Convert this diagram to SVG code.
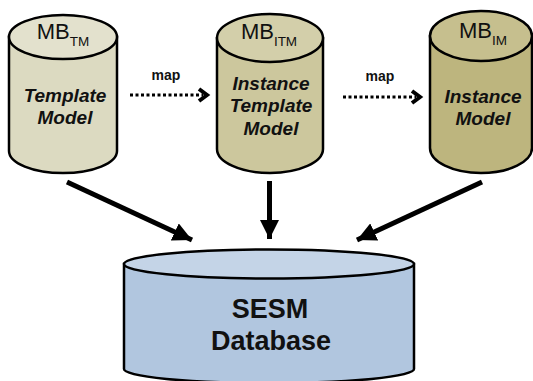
<svg xmlns="http://www.w3.org/2000/svg" width="533" height="381" viewBox="0 0 533 381">
  <defs>
    <marker id="head" markerUnits="userSpaceOnUse" markerWidth="21" markerHeight="19" refX="19" refY="9.5" orient="auto">
      <path d="M0,0 L19,9.5 L0,19 Z" fill="#000"/>
    </marker>
    <style>
      .cyl { stroke: #000; stroke-width: 2.5; }
      .mb { font-family: "Liberation Sans", Arial, sans-serif; font-size: 22px; fill: #111; text-anchor: middle; }
      .sub { font-size: 13.5px; }
      .label { font-family: "Liberation Sans", Arial, sans-serif; font-size: 19px; font-weight: bold; font-style: italic; fill: #111; text-anchor: middle; }
      .map { font-family: "Liberation Sans", Arial, sans-serif; font-size: 14px; font-weight: bold; fill: #111; text-anchor: middle; }
      .db { font-family: "Liberation Sans", Arial, sans-serif; font-size: 27px; font-weight: bold; fill: #111; text-anchor: middle; }
      .flow { stroke: #000; stroke-width: 5; fill: none; marker-end: url(#head); }
      .dots { stroke: #000; stroke-width: 3; stroke-dasharray: 3 2.5; fill: none; }
      .chev { stroke: #000; stroke-width: 4; fill: none; stroke-linejoin: miter; }
    </style>
  </defs>

  <!-- Template Model store -->
  <g id="template-model">
    <path class="cyl" fill="#DCDAC1" d="M9,37 L9,151 A54,22 0 0 0 117,151 L117,37 Z"/>
    <ellipse class="cyl" fill="#E3E1CD" cx="63" cy="37" rx="54" ry="22"/>
    <text class="mb" x="63" y="39">MB<tspan class="sub" dy="7">TM</tspan></text>
    <text class="label" x="65" y="102">Template</text>
    <text class="label" x="65" y="124">Model</text>
  </g>

  <!-- Instance Template Model store -->
  <g id="instance-template-model">
    <path class="cyl" fill="#CCC79D" d="M217,38 L217,149 A53,24 0 0 0 323,149 L323,38 Z"/>
    <ellipse class="cyl" fill="#D3CFAA" cx="270" cy="38" rx="53" ry="24"/>
    <text class="mb" x="269" y="39">MB<tspan class="sub" dy="7">ITM</tspan></text>
    <text class="label" x="271" y="90">Instance</text>
    <text class="label" x="271" y="112">Template</text>
    <text class="label" x="271" y="135">Model</text>
  </g>

  <!-- Instance Model store -->
  <g id="instance-model">
    <path class="cyl" fill="#BDB57E" d="M430,36 L430,148 A51,25 0 0 0 532,148 L532,36 Z"/>
    <ellipse class="cyl" fill="#C6BF8E" cx="481" cy="36" rx="51" ry="25"/>
    <text class="mb" x="483" y="38">MB<tspan class="sub" dy="7">IM</tspan></text>
    <text class="label" x="483" y="103">Instance</text>
    <text class="label" x="483" y="125">Model</text>
  </g>

  <!-- SESM Database -->
  <g id="sesm-database">
    <path class="cyl" fill="#B1C6DF" d="M124,264 L124,369 A145,14 0 0 0 414,369 L414,264 Z"/>
    <ellipse class="cyl" fill="#C4D4E7" cx="269" cy="264" rx="145" ry="14.5"/>
    <text class="db" x="270" y="318">SESM</text>
    <text class="db" x="271" y="350">Database</text>
  </g>

  <!-- connectors -->
  <g id="connectors">
    <path class="dots" d="M130,95 L203,95"/>
    <polyline class="chev" points="199,89 207,95 199,101"/>
    <text class="map" x="166" y="80">map</text>

    <path class="dots" d="M343,97 L416,97"/>
    <polyline class="chev" points="412,91 420,97 412,103"/>
    <text class="map" x="380" y="81">map</text>

    <path class="flow" d="M67,182 L192,240"/>
    <path class="flow" d="M269.5,181 L269.5,239"/>
    <path class="flow" d="M482,182 L357,240"/>
  </g>
</svg>
